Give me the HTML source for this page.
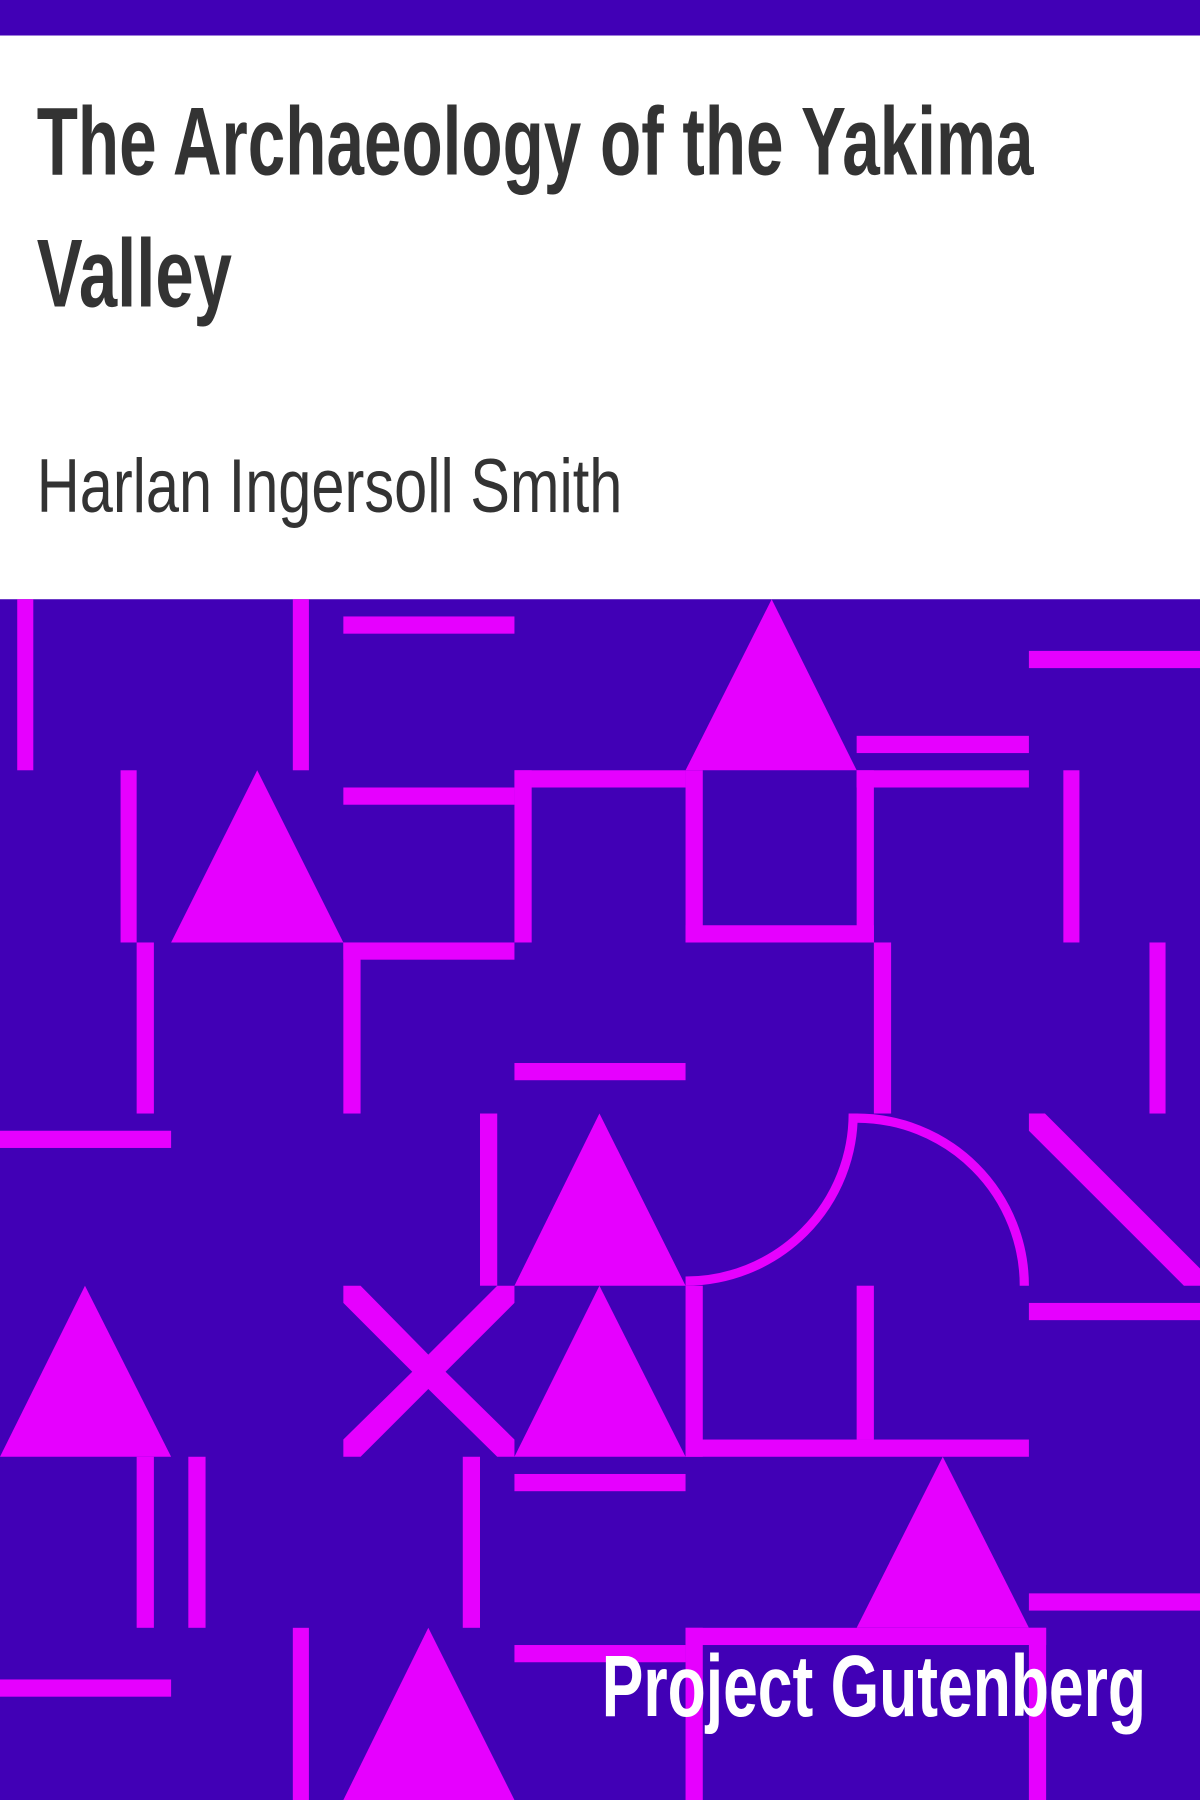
<!DOCTYPE html>
<html><head><meta charset="utf-8">
<style>
html,body{margin:0;padding:0;width:1200px;height:1800px;overflow:hidden;background:#fff}
svg{display:block}
</style></head>
<body>
<svg width="1200" height="1800" viewBox="0 0 1045 1568" preserveAspectRatio="none" xmlns="http://www.w3.org/2000/svg">
  <rect x="0" y="0" width="1045" height="31" fill="#4100b6"/>
  <rect x="0" y="31" width="1045" height="491" fill="#ffffff"/>
  <text x="32" y="152" font-family="Liberation Sans, sans-serif" font-weight="bold" font-size="84" fill="#333" textLength="868" lengthAdjust="spacingAndGlyphs">The Archaeology of the Yakima</text>
  <text x="32" y="267" font-family="Liberation Sans, sans-serif" font-weight="bold" font-size="84" fill="#333" textLength="170" lengthAdjust="spacingAndGlyphs">Valley</text>
  <text x="32" y="446" font-family="Liberation Sans, sans-serif" font-size="66" fill="#333" textLength="510" lengthAdjust="spacingAndGlyphs">Harlan Ingersoll Smith</text>

  <g>
    <rect x="0" y="522" width="1045" height="1046" fill="#4100b6"/>
    <g fill="#e600ff">
      <rect x="15" y="522" width="14" height="149"/>
      <rect x="255" y="522" width="14" height="149"/>
      <rect x="299" y="537" width="149" height="15"/>
      <rect x="896" y="567" width="149" height="15"/>
      <polygon points="672,522 597,671 746,671"/>
      <rect x="746" y="641" width="150" height="15"/>
      <rect x="299" y="686" width="149" height="15"/>
      <rect x="448" y="671" width="149" height="15"/>
      <rect x="448" y="671" width="15" height="150"/>
      <rect x="299" y="821" width="149" height="15"/>
      <rect x="299" y="821" width="15" height="149"/>
      <rect x="597" y="671" width="15" height="150"/>
      <rect x="597" y="806" width="164" height="15"/>
      <rect x="746" y="671" width="15" height="150"/>
      <rect x="746" y="671" width="150" height="15"/>
      <rect x="105" y="671" width="14" height="150"/>
      <rect x="119" y="821" width="15" height="149"/>
      <polygon points="224,671 149,821 299,821"/>
      <rect x="926" y="671" width="14" height="150"/>
      <rect x="1001" y="821" width="14" height="149"/>
      <rect x="761" y="821" width="15" height="149"/>
      <rect x="448" y="926" width="149" height="15"/>
      <rect x="0" y="985" width="149" height="15"/>
      <rect x="418" y="970" width="15" height="150"/>
      <polygon points="522,970 448,1120 597,1120"/>
      <polygon points="896,970 896,985 1031,1120 1045,1120 1045,1105 910,970"/>
      <rect x="896" y="1135" width="149" height="15"/>
      <polygon points="299,1120 314,1120 373,1180 433,1120 448,1120 448,1135 388,1195 448,1254 448,1269 433,1269 373,1210 314,1269 299,1269 299,1254 359,1195 299,1135"/>
      <polygon points="522,1120 448,1269 597,1269"/>
      <rect x="597" y="1120" width="15" height="149"/>
      <rect x="597" y="1254" width="299" height="15"/>
      <rect x="746" y="1120" width="15" height="134"/>
      <polygon points="74,1120 0,1269 149,1269"/>
      <rect x="119" y="1269" width="15" height="149"/>
      <rect x="164" y="1269" width="15" height="149"/>
      <rect x="403" y="1269" width="15" height="149"/>
      <rect x="448" y="1284" width="149" height="15"/>
      <polygon points="821,1269 746,1418 896,1418"/>
      <rect x="896" y="1388" width="149" height="15"/>
      <rect x="597" y="1418" width="314" height="15"/>
      <rect x="597" y="1418" width="15" height="150"/>
      <rect x="896" y="1418" width="15" height="150"/>
      <rect x="448" y="1433" width="149" height="15"/>
      <rect x="255" y="1418" width="14" height="150"/>
      <polygon points="373,1418 299,1568 448,1568"/>
      <rect x="0" y="1463" width="149" height="15"/>
    </g>
    <g fill="none" stroke="#e600ff" stroke-width="8">
      <path d="M597,1116 A146,146 0 0 0 743,970"/>
      <path d="M746,974 A146,146 0 0 1 892,1120"/>
    </g>
  </g>
  <text x="524" y="1495" font-family="Liberation Sans, sans-serif" font-weight="bold" font-size="76" fill="#ffffff" textLength="474" lengthAdjust="spacingAndGlyphs">Project Gutenberg</text>
</svg>
</body></html>
